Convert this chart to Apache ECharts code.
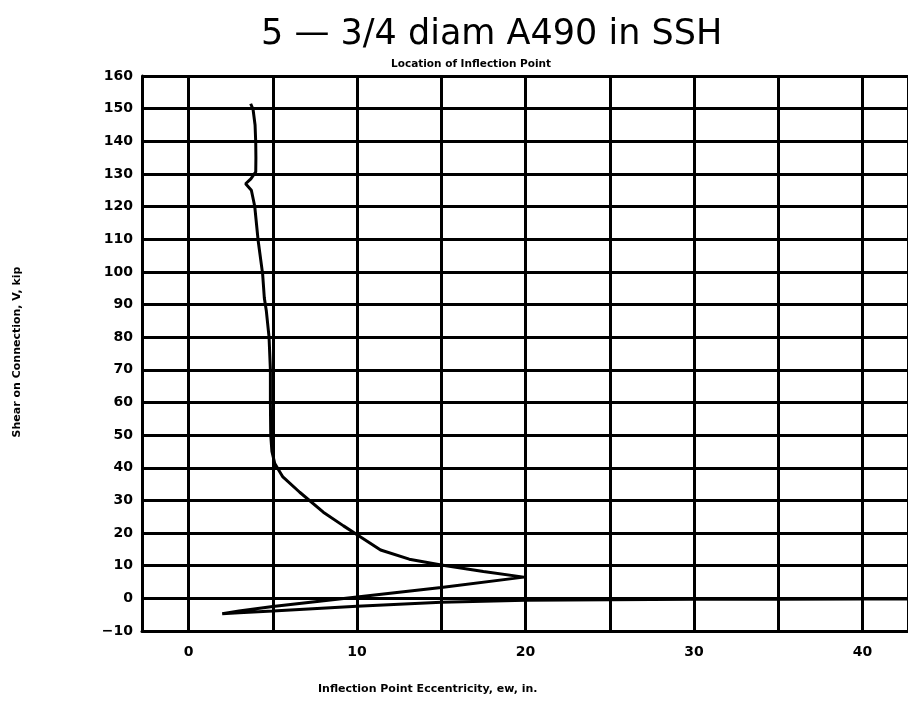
<!DOCTYPE html>
<html>
<head>
<meta charset="utf-8">
<script src="https://cdn.jsdelivr.net/npm/echarts@6/dist/echarts.min.js"></script>
<style>
html,body{margin:0;padding:0;background:#fff;}
#chart{width:908px;height:703px;}
</style>
</head>
<body>
<div id="chart"></div>
<script>
// Data
var titleText = '5 \u2014 3/4 diam A490 in SSH';
var subtitleText = 'Location of Inflection Point';
var xAxisTitle = 'Inflection Point Eccentricity, ew, in.';
var yAxisTitle = 'Shear on Connection, V, kip';

// Inflection point eccentricity (in.)
var eccentricity = [3.69, 3.83, 3.95, 3.99, 4.0, 3.99, 3.7, 3.39, 3.73, 3.93, 4.13, 4.4, 4.5, 4.62, 4.78, 4.86, 4.86, 4.88, 4.95, 5.12, 5.6, 6.6, 8.0, 9.2, 10.1, 11.4, 13.1, 15.0, 17.5, 19.9, 15.0, 10.0, 5.0, 3.0, 2.0, 3.0, 5.0, 10.0, 15.0, 20.0, 25.0, 30.0, 35.0, 40.0, 45.0];
// Shear on connection (kip)
var shear = [151.5, 149.8, 145, 139.6, 135, 130.6, 128.5, 127, 125, 120.1, 109.7, 99.3, 92, 88, 80, 70, 60, 50, 45, 41.3, 37.2, 32.5, 26.4, 22.2, 19.2, 14.8, 12, 10.2, 8.2, 6.5, 3.3, 0.4, -2.5, -3.9, -4.7, -4.4, -3.9, -2.4, -1.2, -0.6, -0.4, -0.3, -0.3, -0.2, -0.2];

var xMin = -2.76, xMax = 42.7;
var yMin = -10, yMax = 160, yStep = 10;

var pts = eccentricity.map(function (x, i) { return [x, shear[i]]; });

var chart = echarts.init(document.getElementById('chart'), null, {renderer: 'canvas'});
var boldFont = 'DejaVu Sans';
chart.setOption({
  backgroundColor: '#fff',
  animation: false,
  title: [
    {text: titleText, left: 256, top: 12,
     textStyle: {fontFamily: 'DejaVu Sans', fontWeight: 'normal', fontSize: 35, color: '#000'}},
    {text: subtitleText, left: 386, top: 54,
     textStyle: {fontFamily: boldFont, fontWeight: 'bold', fontSize: 10.5, color: '#000'}}
  ],
  graphic: [
    {type: 'text', left: 318, top: 684,
     style: {text: xAxisTitle, font: 'bold 11px "DejaVu Sans"', fill: '#000'}},
    {type: 'text', x: 17, y: 352, rotation: Math.PI / 2,
     style: {text: yAxisTitle, font: 'bold 11px "DejaVu Sans"', fill: '#000', align: 'center', verticalAlign: 'middle'}}
  ],
  grid: {left: 142, right: -2, top: 76, bottom: 72, containLabel: false},
  xAxis: {
    type: 'value', min: xMin, max: xMax, splitNumber: 9,
    axisLine: {show: true, onZero: false, lineStyle: {color: '#000', width: 3}},
    axisTick: {show: false},
    splitLine: {show: true, lineStyle: {color: '#000', width: 3}},
    axisLabel: {
      show: true, margin: 14, color: '#000', fontFamily: boldFont, fontWeight: 'bold', fontSize: 14,
      showMinLabel: false, showMaxLabel: false,
      formatter: function (v) { return (Math.abs(v % 10) < 1e-6) ? String(Math.round(v)) : ''; }
    }
  },
  yAxis: {
    type: 'value', min: yMin, max: yMax, interval: yStep,
    axisLine: {show: true, onZero: false, lineStyle: {color: '#000', width: 3}},
    axisTick: {show: false},
    splitLine: {show: true, lineStyle: {color: '#000', width: 3}},
    axisLabel: {
      margin: 9, color: '#000', fontFamily: boldFont, fontWeight: 'bold', fontSize: 14,
      formatter: function (v) { return v < 0 ? '\u2212' + Math.abs(v) : String(v); }
    }
  },
  series: [{
    type: 'line', data: pts, showSymbol: false, symbol: 'none', smooth: false,
    lineStyle: {color: '#000', width: 3}, clip: true, z: 5
  }]
});
</script>
</body>
</html>
